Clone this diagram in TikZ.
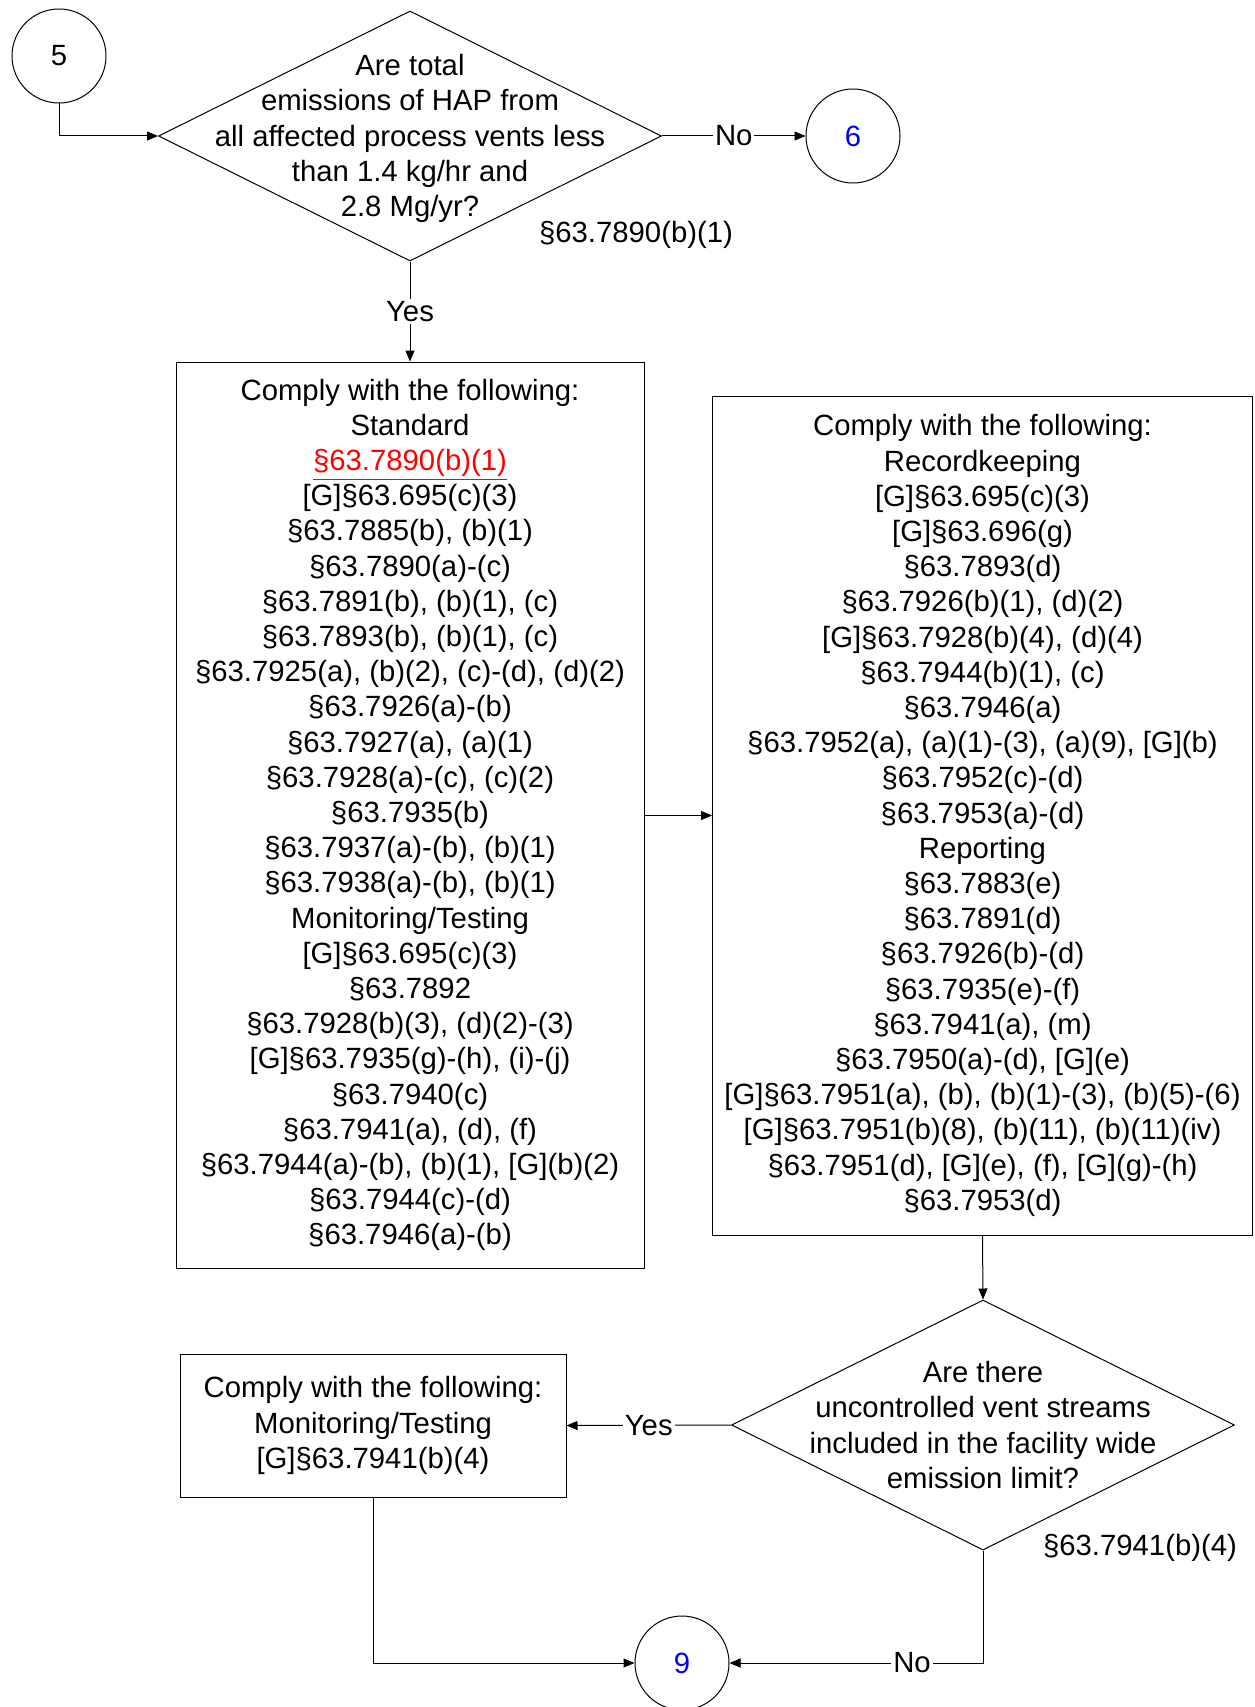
\documentclass[tikz,border=0pt]{standalone}
\usepackage{fontspec}
\setmainfont{Liberation Sans}
\usetikzlibrary{shapes.geometric,arrows.meta}
\definecolor{linkred}{RGB}{255,0,0}
\definecolor{refblue}{RGB}{0,0,255}
\newcommand{\rtext}{\fontsize{14.65}{17.6}\selectfont}

\begin{document}
\begin{tikzpicture}[x=0.5pt,y=-0.5pt,
    every node/.style={font=\rtext},
    stream/.style={-{Triangle[length=5.5pt,width=4.5pt]},line width=0.5pt},
    flat/.style={line width=0.5pt},
    ask/.style={diamond,draw,line width=0.5pt,inner sep=0pt,minimum width=251.5pt,minimum height=125pt},
    todo/.style={rectangle,draw,line width=0.5pt,align=center,inner sep=2pt},
    conn/.style={circle,draw,line width=0.5pt,inner sep=0pt,minimum size=47pt},
    tag/.style={fill=white,inner sep=1pt}]
    \useasboundingbox (0,0) rectangle (1254,1707);

    % connectors and questions
    \node [conn] (c5) at (59,56){5};
    \node [conn,text=refblue] (c6) at (853,136){6};
    \node [conn,text=refblue] (c9) at (682,1663){9};
    \node [ask] (q1) at (410,136){};
    \node [align=center] (q1t) at (410,138.5){Are total\\emissions of HAP from\\all affected process vents less\\than 1.4 kg/hr and\\2.8 Mg/yr?};
    \node [anchor=west] (r1) at (532,235){§63.7890(b)(1)};
    \node [ask] (q2) at (983,1425){};
    \node [align=center] (q2t) at (q2){Are there\\uncontrolled vent streams\\included in the facility wide\\emission limit?};
    \node [anchor=west] (r2) at (1036,1548){§63.7941(b)(4)};

    % boxes
    \node [todo,minimum width=234pt,minimum height=453pt] (std) at (410,815){Comply with the following:\\Standard\\
      \textcolor{linkred}{\underline{§63.7890(b)(1)}}\\{[G]}§63.695(c)(3)\\§63.7885(b), (b)(1)\\§63.7890(a)-(c)\\
      §63.7891(b), (b)(1), (c)\\§63.7893(b), (b)(1), (c)\\§63.7925(a), (b)(2), (c)-(d), (d)(2)\\§63.7926(a)-(b)\\
      §63.7927(a), (a)(1)\\§63.7928(a)-(c), (c)(2)\\§63.7935(b)\\§63.7937(a)-(b), (b)(1)\\§63.7938(a)-(b), (b)(1)\\
      Monitoring/Testing\\{[G]}§63.695(c)(3)\\§63.7892\\§63.7928(b)(3), (d)(2)-(3)\\{[G]}§63.7935(g)-(h), (i)-(j)\\
      §63.7940(c)\\§63.7941(a), (d), (f)\\§63.7944(a)-(b), (b)(1), [G](b)(2)\\§63.7944(c)-(d)\\§63.7946(a)-(b)};
    \node [todo,minimum width=270pt,minimum height=419.5pt] (rec) at (982.5,815.5){Comply with the following:\\Recordkeeping\\
      {[G]}§63.695(c)(3)\\{[G]}§63.696(g)\\§63.7893(d)\\§63.7926(b)(1), (d)(2)\\{[G]}§63.7928(b)(4), (d)(4)\\
      §63.7944(b)(1), (c)\\§63.7946(a)\\§63.7952(a), (a)(1)-(3), (a)(9), [G](b)\\§63.7952(c)-(d)\\§63.7953(a)-(d)\\
      Reporting\\§63.7883(e)\\§63.7891(d)\\§63.7926(b)-(d)\\§63.7935(e)-(f)\\§63.7941(a), (m)\\§63.7950(a)-(d), [G](e)\\
      {[G]}§63.7951(a), (b), (b)(1)-(3), (b)(5)-(6)\\{[G]}§63.7951(b)(8), (b)(11), (b)(11)(iv)\\
      §63.7951(d), [G](e), (f), [G](g)-(h)\\§63.7953(d)};
    \node [todo,minimum width=193pt,minimum height=71.5pt] (mon) at (373,1425.5){Comply with the following:\\Monitoring/Testing\\{[G]}§63.7941(b)(4)};

    % flow
    \draw [stream] (c5.south) |- (q1.west);
    \draw [stream] (q1.east) -- node [tag]{No} (c6.west);
    \draw [stream] (q1.south) -- node [tag]{Yes} (std.north);
    \draw [stream] (std.east |- rec.west) -- (rec.west);
    \draw [stream] (rec.south) -- (q2.north);
    \draw [stream] (q2.west) -- node [tag]{Yes} (mon.east);
    \draw [stream] (q2.south) |- node [tag,pos=0.64]{No} (c9.east);
    \draw [stream] (mon.south) |- (c9.west);
\end{tikzpicture}
\end{document}
